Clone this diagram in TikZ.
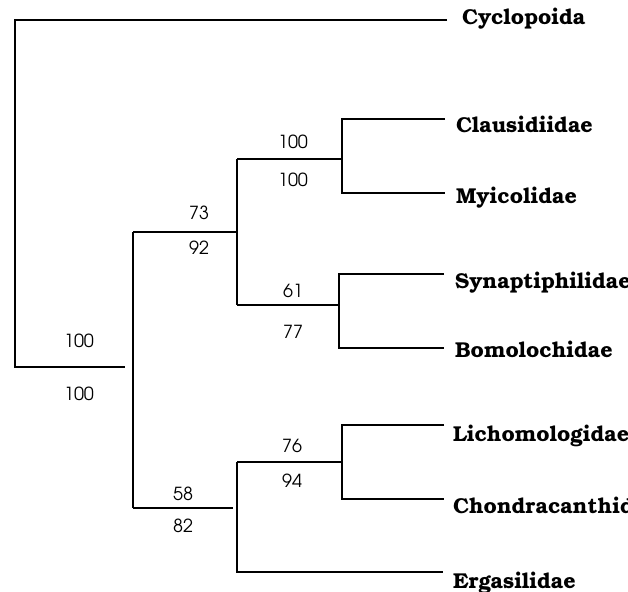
\documentclass[tikz,border=0pt]{standalone}
\usepackage{fontspec}
\newfontfamily\taxfont{texgyrebonum-bold.otf}
\newfontfamily\numfont{texgyreadventor-regular.otf}
\begin{document}
\begin{tikzpicture}[x=1pt,y=-1pt,
  branch/.style={line width=1.4pt, line cap=butt},
  taxon/.style={anchor=base west, inner sep=0pt, font=\taxfont\fontsize{21.5}{21.5}\selectfont},
  support/.style={inner sep=0pt, font=\numfont\fontsize{18}{18}\selectfont}]
\useasboundingbox (0,0) rectangle (628,591);
\clip (0,0) rectangle (628,591);
% internal nodes
\coordinate (root) at (15,367);
\coordinate (rootT) at (15,20);
\coordinate (A) at (133,367);
\coordinate (AT) at (133,232);
\coordinate (AB) at (133,508);
\coordinate (B) at (237,232);
\coordinate (BT) at (237,159);
\coordinate (BB) at (237,305);
\coordinate (C) at (342,159);
\coordinate (CT) at (342,119);
\coordinate (CB) at (342,193);
\coordinate (D) at (339,305);
\coordinate (DT) at (339,274);
\coordinate (DB) at (339,348);
\coordinate (E) at (237,508);
\coordinate (ET) at (237,462);
\coordinate (EB) at (237,572);
\coordinate (F) at (342,462);
\coordinate (FT) at (342,425);
\coordinate (FB) at (342,499);
% leaf ends
\coordinate (lCyc) at (447,20);
\coordinate (lCla) at (445,119);
\coordinate (lMyi) at (445,193);
\coordinate (lSyn) at (444,274);
\coordinate (lBom) at (444,348);
\coordinate (lLic) at (444,425);
\coordinate (lCho) at (444,499);
\coordinate (lErg) at (443,572);
% branches
\draw[branch] (lCyc) -- (rootT) -- (root) -- ([xshift=-8pt]A);
\draw[branch] (AT) -- (AB);
\draw[branch] (AT) -- (B);
\draw[branch] (AB) -- ([xshift=-4pt]E);
\draw[branch] (BT) -- (BB);
\draw[branch] (BT) -- (C);
\draw[branch] (BB) -- (D);
\draw[branch] (lCla) -- (CT) -- (CB) -- (lMyi);
\draw[branch] (lSyn) -- (DT) -- (DB) -- (lBom);
\draw[branch] (ET) -- (EB) -- (lErg);
\draw[branch] (ET) -- (F);
\draw[branch] (lLic) -- (FT) -- (FB) -- (lCho);
% taxa
\node[taxon] (tCyc) at (462,25) {Cyclopoida};
\node[taxon] (tCla) at (456,132) {Clausidiidae};
\node[taxon] (tMyi) at (456,203) {Myicolidae};
\node[taxon] (tSyn) at (455,288) {Synaptiphilidae};
\node[taxon] (tBom) at (455,357) {Bomolochidae};
\node[taxon] (tLic) at (453,441) {Lichomologidae};
\node[taxon] (tCho) at (453,513) {Chondracanthidae};
\node[taxon] (tErg) at (453,588) {Ergasilidae};
% support values
\node[support] (s1a) at (79,341) {100};
\node[support] (s1b) at (79,394) {100};
\node[support] (s2a) at (199,213) {73};
\node[support] (s2b) at (199,248) {92};
\node[support] (s3a) at (293,142) {100};
\node[support] (s3b) at (293,180) {100};
\node[support] (s4a) at (293,291) {61};
\node[support] (s4b) at (293,332) {77};
\node[support] (s5a) at (292,446) {76};
\node[support] (s5b) at (292,481) {94};
\node[support] (s6a) at (183,494) {58};
\node[support] (s6b) at (183,526) {82};
\end{tikzpicture}
\end{document}
